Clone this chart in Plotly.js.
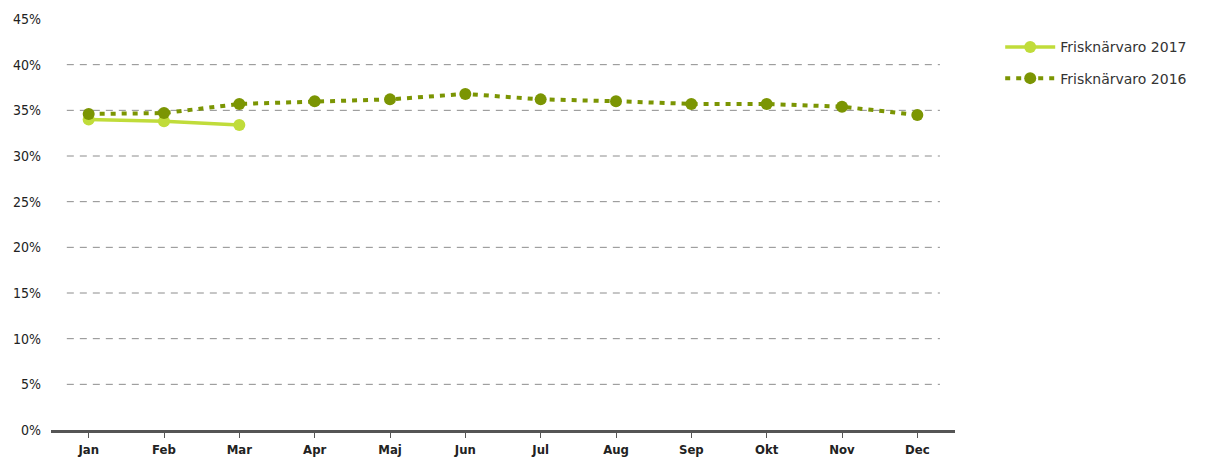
<!DOCTYPE html>
<html><head><meta charset="utf-8">
<script src="https://cdn.plot.ly/plotly-3.0.1.min.js"></script>
<style>html,body{margin:0;padding:0;background:#fff}#chart{width:1205px;height:459px}</style>
</head><body><div id="chart"></div>
<script>
const months = ["Jan","Feb","Mar","Apr","Maj","Jun","Jul","Aug","Sep","Okt","Nov","Dec"];
const series2017 = [34.0, 33.8, 33.4];
const series2016 = [34.6, 34.7, 35.7, 36.0, 36.2, 36.8, 36.2, 36.0, 35.7, 35.7, 35.4, 34.5];
const yTicks = [0,5,10,15,20,25,30,35,40,45];
const yTickLabels = yTicks.map(v => v + "%");
const gridValues = [5,10,15,20,25,30,35,40];

const traces = [
  {x: months.slice(0, series2017.length), y: series2017, name: "Frisknärvaro 2017", type: "scatter", mode: "lines+markers",
   legendgroup: "a", line: {color: "#c0dc3a", width: 3.5}, marker: {color: "#c0dc3a", size: 12}},
  {x: months, y: series2016, name: "Frisknärvaro 2016", type: "scatter", mode: "lines+markers",
   legendgroup: "b", line: {color: "#7b9503", width: 4, dash: "5px,6px"}, marker: {color: "#7b9503", size: 12}}
];

const shapes = gridValues.map(v => ({type: "line", xref: "x", yref: "y", x0: -0.29, x1: 11.3, y0: v, y1: v,
  line: {color: "#8c8c8c", width: 1, dash: "7px,6px"}, layer: "below"}));

const layout = {
  width: 1205, height: 459,
  margin: {l: 51, r: 250, t: 19, b: 29},
  paper_bgcolor: "#fff", plot_bgcolor: "#fff",
  font: {family: "DejaVu Sans, Verdana, sans-serif", size: 13, color: "#222"},
  showlegend: true,
  legend: {x: 1.05, y: 0.97, xanchor: "left", yanchor: "top", traceorder: "grouped", tracegroupgap: 10,
    font: {size: 14, color: "#333", family: "DejaVu Sans, sans-serif"}, itemwidth: 50},
  xaxis: {type: "category", categoryarray: months, range: [-0.5, 11.5], showgrid: false, zeroline: false,
    showline: true, linecolor: "#555", linewidth: 2.5, ticks: "outside", ticklen: 5, tickcolor: "#555", tickwidth: 1,
    ticklabelstandoff: 1,
    tickfont: {size: 13, color: "#222", family: "DejaVu Sans Condensed, DejaVu Sans, sans-serif", weight: "bold"}, fixedrange: true},
  yaxis: {range: [0, 45], tickvals: yTicks, ticktext: yTickLabels, showgrid: false, zeroline: false, showline: false,
    ticks: "", ticklabelstandoff: 9, tickfont: {size: 14, color: "#222", family: "DejaVu Sans Condensed, DejaVu Sans, sans-serif"}},
  shapes: shapes
};
Plotly.newPlot("chart", traces, layout, {displayModeBar: false, staticPlot: true});
</script></body></html>
